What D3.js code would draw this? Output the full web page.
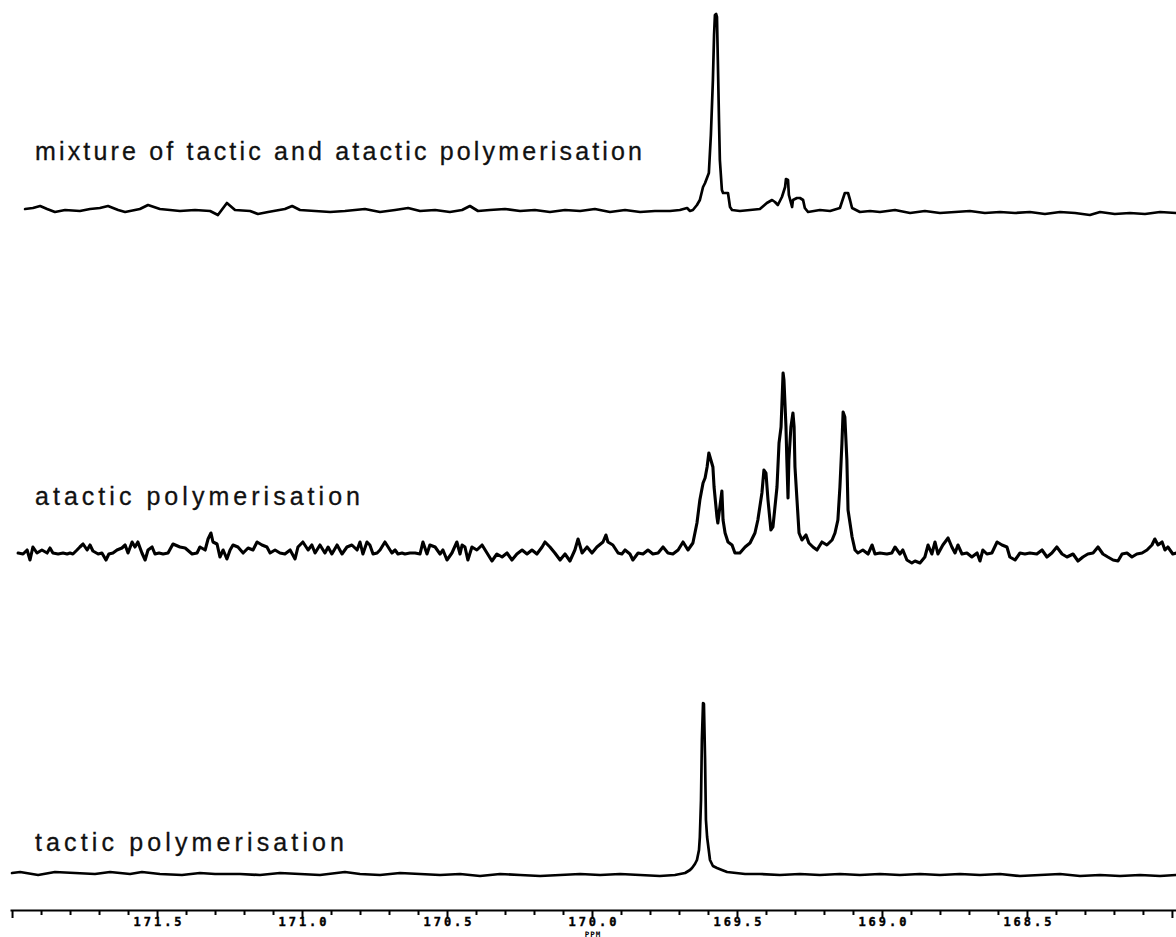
<!DOCTYPE html>
<html><head><meta charset="utf-8">
<script src="https://cdn.jsdelivr.net/npm/d3@7"></script>
<style>html,body{margin:0;padding:0;background:#fff;} svg{display:block}</style>
</head><body><svg id="c" width="1176" height="937"></svg>
<script>
// ---- data ----
const spectrumLabels = ["mixture of tactic and atactic polymerisation", "atactic polymerisation", "tactic polymerisation"];
const tickLabelValues = [171.5, 171.0, 170.5, 170.0, 169.5, 169.0, 168.5];
const axisTitle = "PPM";

// [ppm, intensity]
const mixture = [
[171.955,1],[171.928,2],[171.903,4],[171.879,1],[171.852,-2],[171.817,0],[171.766,-1],[171.731,1],[171.697,2],[171.669,4],
[171.634,0],[171.610,-2],[171.559,1],[171.531,5],[171.490,1],[171.455,0],[171.421,-1],[171.369,0],[171.317,-1],[171.290,-5],
[171.259,7],[171.231,0],[171.179,-1],[171.152,-4],[171.117,-2],[171.059,1],[171.034,4],[171.007,0],[170.955,-1],[170.903,-2],
[170.852,-1],[170.783,1],[170.731,-2],[170.679,0],[170.634,2],[170.593,-1],[170.541,0],[170.490,-2],[170.448,0],[170.421,4],
[170.393,-1],[170.352,0],[170.300,1],[170.248,-1],[170.197,0],[170.145,-2],[170.093,0],[170.041,-1],[169.990,1],[169.938,-2],
[169.886,0],[169.834,-2],[169.783,-1],[169.731,-1],[169.697,0],[169.672,2],[169.662,-1],[169.652,0],[169.638,5],[169.628,10],
[169.617,23],[169.610,27],[169.597,37],[169.590,75],[169.583,130],[169.579,175],[169.576,195],[169.572,196],[169.569,193],[169.566,150],
[169.562,90],[169.559,50],[169.552,20],[169.548,17],[169.534,17],[169.531,17],[169.524,3],[169.517,0],[169.490,-1],[169.455,0],[169.421,1],
[169.397,7],[169.379,10],[169.369,8],[169.359,5],[169.345,13],[169.334,23],[169.331,31],[169.324,30],[169.321,15],[169.310,3],
[169.307,10],[169.293,12],[169.283,12],[169.272,10],[169.266,2],[169.255,-2],[169.214,0],[169.179,-1],[169.145,2],[169.128,17],
[169.117,17],[169.110,10],[169.103,2],[169.076,-2],[169.041,-1],[169.007,-2],[168.955,0],[168.903,-3],[168.852,-1],[168.800,-3],
[168.748,-2],[168.697,-1],[168.645,-3],[168.593,-2],[168.541,-3],[168.490,-2],[168.438,-4],[168.386,-2],[168.334,-3],[168.283,-5],
[168.248,-2],[168.197,-4],[168.145,-3],[168.093,-4],[168.041,-2],[167.986,-3]
];

const atactic = [
[171.979,-5],[171.962,-6],[171.948,-2],[171.938,-12],[171.928,1],[171.914,-5],[171.897,-2],[171.879,-5],[171.869,0],[171.859,-5],
[171.841,-6],[171.824,-5],[171.810,-6],[171.800,-5],[171.790,-6],[171.776,-2],[171.766,1],[171.755,4],[171.741,-2],[171.731,3],
[171.721,-3],[171.703,-6],[171.690,-5],[171.676,-12],[171.666,-6],[171.652,-5],[171.638,-2],[171.621,0],[171.610,3],[171.600,-5],
[171.586,6],[171.576,1],[171.566,6],[171.552,-5],[171.541,-12],[171.531,-2],[171.517,1],[171.507,-6],[171.493,-5],[171.479,-6],
[171.462,-5],[171.445,4],[171.421,1],[171.403,0],[171.379,-6],[171.362,-5],[171.352,1],[171.334,-2],[171.324,9],[171.314,15],
[171.307,6],[171.293,4],[171.283,-9],[171.272,-2],[171.259,-11],[171.248,-2],[171.238,3],[171.221,1],[171.203,-5],[171.186,0],
[171.169,-2],[171.155,6],[171.138,3],[171.121,1],[171.110,-5],[171.093,-2],[171.076,-5],[171.059,-6],[171.041,-2],[171.024,-11],
[171.014,1],[170.997,6],[170.979,-2],[170.966,3],[170.955,-5],[170.938,3],[170.921,-5],[170.910,1],[170.897,-6],[170.879,3],
[170.862,-6],[170.845,1],[170.828,3],[170.810,-2],[170.800,6],[170.790,-6],[170.776,6],[170.766,3],[170.755,-6],[170.741,-5],
[170.731,-2],[170.714,6],[170.703,1],[170.690,-5],[170.679,-2],[170.669,-6],[170.655,-5],[170.645,-6],[170.628,-5],[170.610,-5],
[170.593,-6],[170.583,6],[170.569,-6],[170.559,3],[170.541,1],[170.524,-6],[170.514,-2],[170.500,-12],[170.483,-5],[170.466,6],
[170.455,-6],[170.448,3],[170.438,1],[170.428,-12],[170.414,1],[170.397,-2],[170.379,3],[170.362,-5],[170.345,-13],[170.328,-6],
[170.310,-9],[170.293,-5],[170.276,-12],[170.259,-6],[170.241,-2],[170.224,-6],[170.207,-2],[170.190,-6],[170.172,1],[170.162,6],
[170.145,1],[170.128,-5],[170.110,-12],[170.093,-6],[170.076,-13],[170.059,-2],[170.048,9],[170.034,-5],[170.017,1],[170.000,-5],
[169.983,1],[169.962,6],[169.952,13],[169.945,6],[169.928,3],[169.910,-5],[169.897,-6],[169.886,-2],[169.869,-6],[169.859,-12],
[169.841,-5],[169.824,-6],[169.807,-2],[169.790,-6],[169.772,-5],[169.755,1],[169.738,-5],[169.721,-6],[169.703,-2],[169.686,6],
[169.669,-2],[169.652,5],[169.638,25],[169.628,48],[169.617,65],[169.610,70],[169.603,81],[169.597,95],[169.590,88],[169.583,81],
[169.579,61],[169.569,31],[169.566,25],[169.559,41],[169.552,57],[169.548,28],[169.541,15],[169.531,6],[169.517,3],[169.507,-5],
[169.490,-5],[169.472,1],[169.455,5],[169.438,15],[169.428,28],[169.414,55],[169.407,78],[169.400,75],[169.393,48],[169.383,18],
[169.376,21],[169.362,61],[169.355,105],[169.348,121],[169.341,175],[169.338,168],[169.331,121],[169.328,88],[169.324,50],[169.321,88],
[169.314,121],[169.307,135],[169.303,121],[169.300,81],[169.293,48],[169.286,15],[169.276,8],[169.262,13],[169.252,5],[169.238,1],
[169.224,-2],[169.207,6],[169.190,3],[169.172,8],[169.162,15],[169.152,28],[169.145,61],[169.138,105],[169.134,136],[169.128,131],
[169.121,88],[169.117,38],[169.103,11],[169.093,-2],[169.083,-5],[169.066,-2],[169.048,-6],[169.034,3],[169.024,-6],[169.007,-5],
[168.983,-6],[168.966,-5],[168.955,1],[168.938,-6],[168.928,-2],[168.914,-12],[168.897,-15],[168.886,-13],[168.869,-15],[168.852,-9],
[168.841,3],[168.828,-6],[168.817,6],[168.807,-6],[168.790,3],[168.772,10],[168.759,1],[168.748,-5],[168.738,3],[168.724,-6],
[168.707,-5],[168.690,-9],[168.672,-5],[168.662,-13],[168.652,-2],[168.638,-6],[168.621,-5],[168.603,6],[168.586,3],[168.569,1],
[168.559,-9],[168.541,-12],[168.524,-5],[168.507,-6],[168.490,-5],[168.466,-6],[168.448,-2],[168.431,-9],[168.414,-5],[168.397,1],
[168.379,-6],[168.362,-9],[168.341,-6],[168.324,-13],[168.307,-9],[168.290,-6],[168.272,-5],[168.255,1],[168.238,-6],[168.221,-9],
[168.203,-12],[168.186,-13],[168.172,-6],[168.155,-5],[168.138,-9],[168.121,-6],[168.103,-5],[168.086,-2],[168.069,3],[168.059,9],
[168.048,3],[168.034,6],[168.024,-2],[168.014,1],[167.997,-6],[167.983,-5]
];

const tactic = [
[172.000,0],[171.972,1],[171.910,-2],[171.852,1],[171.783,0],[171.714,-1],[171.662,1],[171.593,-1],[171.552,1],[171.490,-1],
[171.414,-2],[171.352,0],[171.300,-1],[171.214,-1],[171.145,-2],[171.076,0],[171.007,-1],[170.938,-2],[170.852,1],[170.800,-1],
[170.731,-2],[170.662,0],[170.593,-1],[170.524,-2],[170.455,-1],[170.386,-3],[170.317,-1],[170.248,-2],[170.179,-3],[170.110,-2],
[170.041,-1],[169.972,-2],[169.903,-1],[169.834,-2],[169.766,-3],[169.714,-2],[169.679,0],[169.662,3],[169.655,5],[169.645,9],
[169.638,13],[169.631,23],[169.628,36],[169.624,73],[169.621,133],[169.617,170],[169.614,169],[169.610,113],[169.607,53],[169.603,36],
[169.593,13],[169.583,7],[169.569,5],[169.552,3],[169.534,1],[169.472,-1],[169.421,-1],[169.352,-2],[169.283,-1],[169.214,-2],
[169.145,-1],[169.076,-2],[169.007,-1],[168.938,-2],[168.869,-1],[168.800,-2],[168.731,-1],[168.662,-2],[168.593,-1],[168.524,-3],
[168.455,-2],[168.386,-1],[168.317,-3],[168.248,-2],[168.179,-3],[168.110,-2],[168.041,-3],[167.986,-2]
];

// ---- drawing ----
const svg = d3.select("#c");
const W = 1176, H = 937;
svg.append("rect").attr("width", W).attr("height", H).attr("fill", "#fff");

const x = d3.scaleLinear().domain([172.007, 167.986]).range([10, 1176]);

const panels = [
  {data: mixture, label: spectrumLabels[0], base: 210, labelY: 160, labelW: 607, sw: 2.7},
  {data: atactic, label: spectrumLabels[1], base: 548, labelY: 505, labelW: 325, sw: 3.1},
  {data: tactic,  label: spectrumLabels[2], base: 873, labelY: 851, labelW: 309, sw: 2.7}
];

panels.forEach(p => {
  const y = d3.scaleLinear().domain([0, 200]).range([p.base, p.base - 200]);
  const line = d3.line().x(d => x(d[0])).y(d => y(d[1]));
  svg.append("path").datum(p.data)
    .attr("d", line)
    .attr("fill", "none")
    .attr("stroke", "#000")
    .attr("stroke-width", p.sw)
    .attr("stroke-linejoin", "round")
    .attr("stroke-linecap", "round");
  svg.append("text")
    .attr("x", 35).attr("y", p.labelY)
    .attr("font-family", "'Liberation Sans', Arial, Helvetica, sans-serif")
    .attr("font-size", 25)
    .attr("fill", "#111")
    .attr("stroke", "#111")
    .attr("stroke-width", 0.3)
    .attr("textLength", p.labelW)
    .attr("lengthAdjust", "spacing")
    .text(p.label);
});

// axis
const axisY = 910;
const tickVals = x.ticks(40);
const isLabeled = v => tickLabelValues.some(t => Math.abs(t - v) < 1e-6);
const isMajor = v => Math.abs(v * 2 - Math.round(v * 2)) < 1e-6;
const axis = d3.axisBottom(x)
  .tickValues(tickVals)
  .tickSizeInner(3)
  .tickSizeOuter(0)
  .tickFormat(v => isLabeled(v) ? v.toFixed(1) : "");
const g = svg.append("g").attr("transform", `translate(0,${axisY})`).call(axis);
g.select(".domain").attr("stroke", "#000").attr("stroke-width", 2);
g.selectAll(".tick line").attr("stroke", "#000").attr("stroke-width", 2)
  .attr("y2", v => isMajor(v) ? 8 : 5);
g.selectAll(".tick text")
  .attr("fill", "#000")
  .attr("stroke", "#000")
  .attr("stroke-width", 0.4)
  .attr("y", 15.5)
  .attr("dy", 0)
  .attr("dx", 1.5)
  .attr("font-family", "'DejaVu Sans Mono', monospace")
  .attr("font-weight", "bold")
  .attr("font-size", 12)
  .attr("letter-spacing", "3px");

svg.append("text")
  .attr("x", x(170.0) + 1).attr("y", 936.5)
  .attr("text-anchor", "middle")
  .attr("font-family", "'DejaVu Sans Mono', monospace")
  .attr("font-weight", "bold")
  .attr("font-size", 7.5)
  .attr("letter-spacing", "1px")
  .text(axisTitle);
</script>
</body></html>
